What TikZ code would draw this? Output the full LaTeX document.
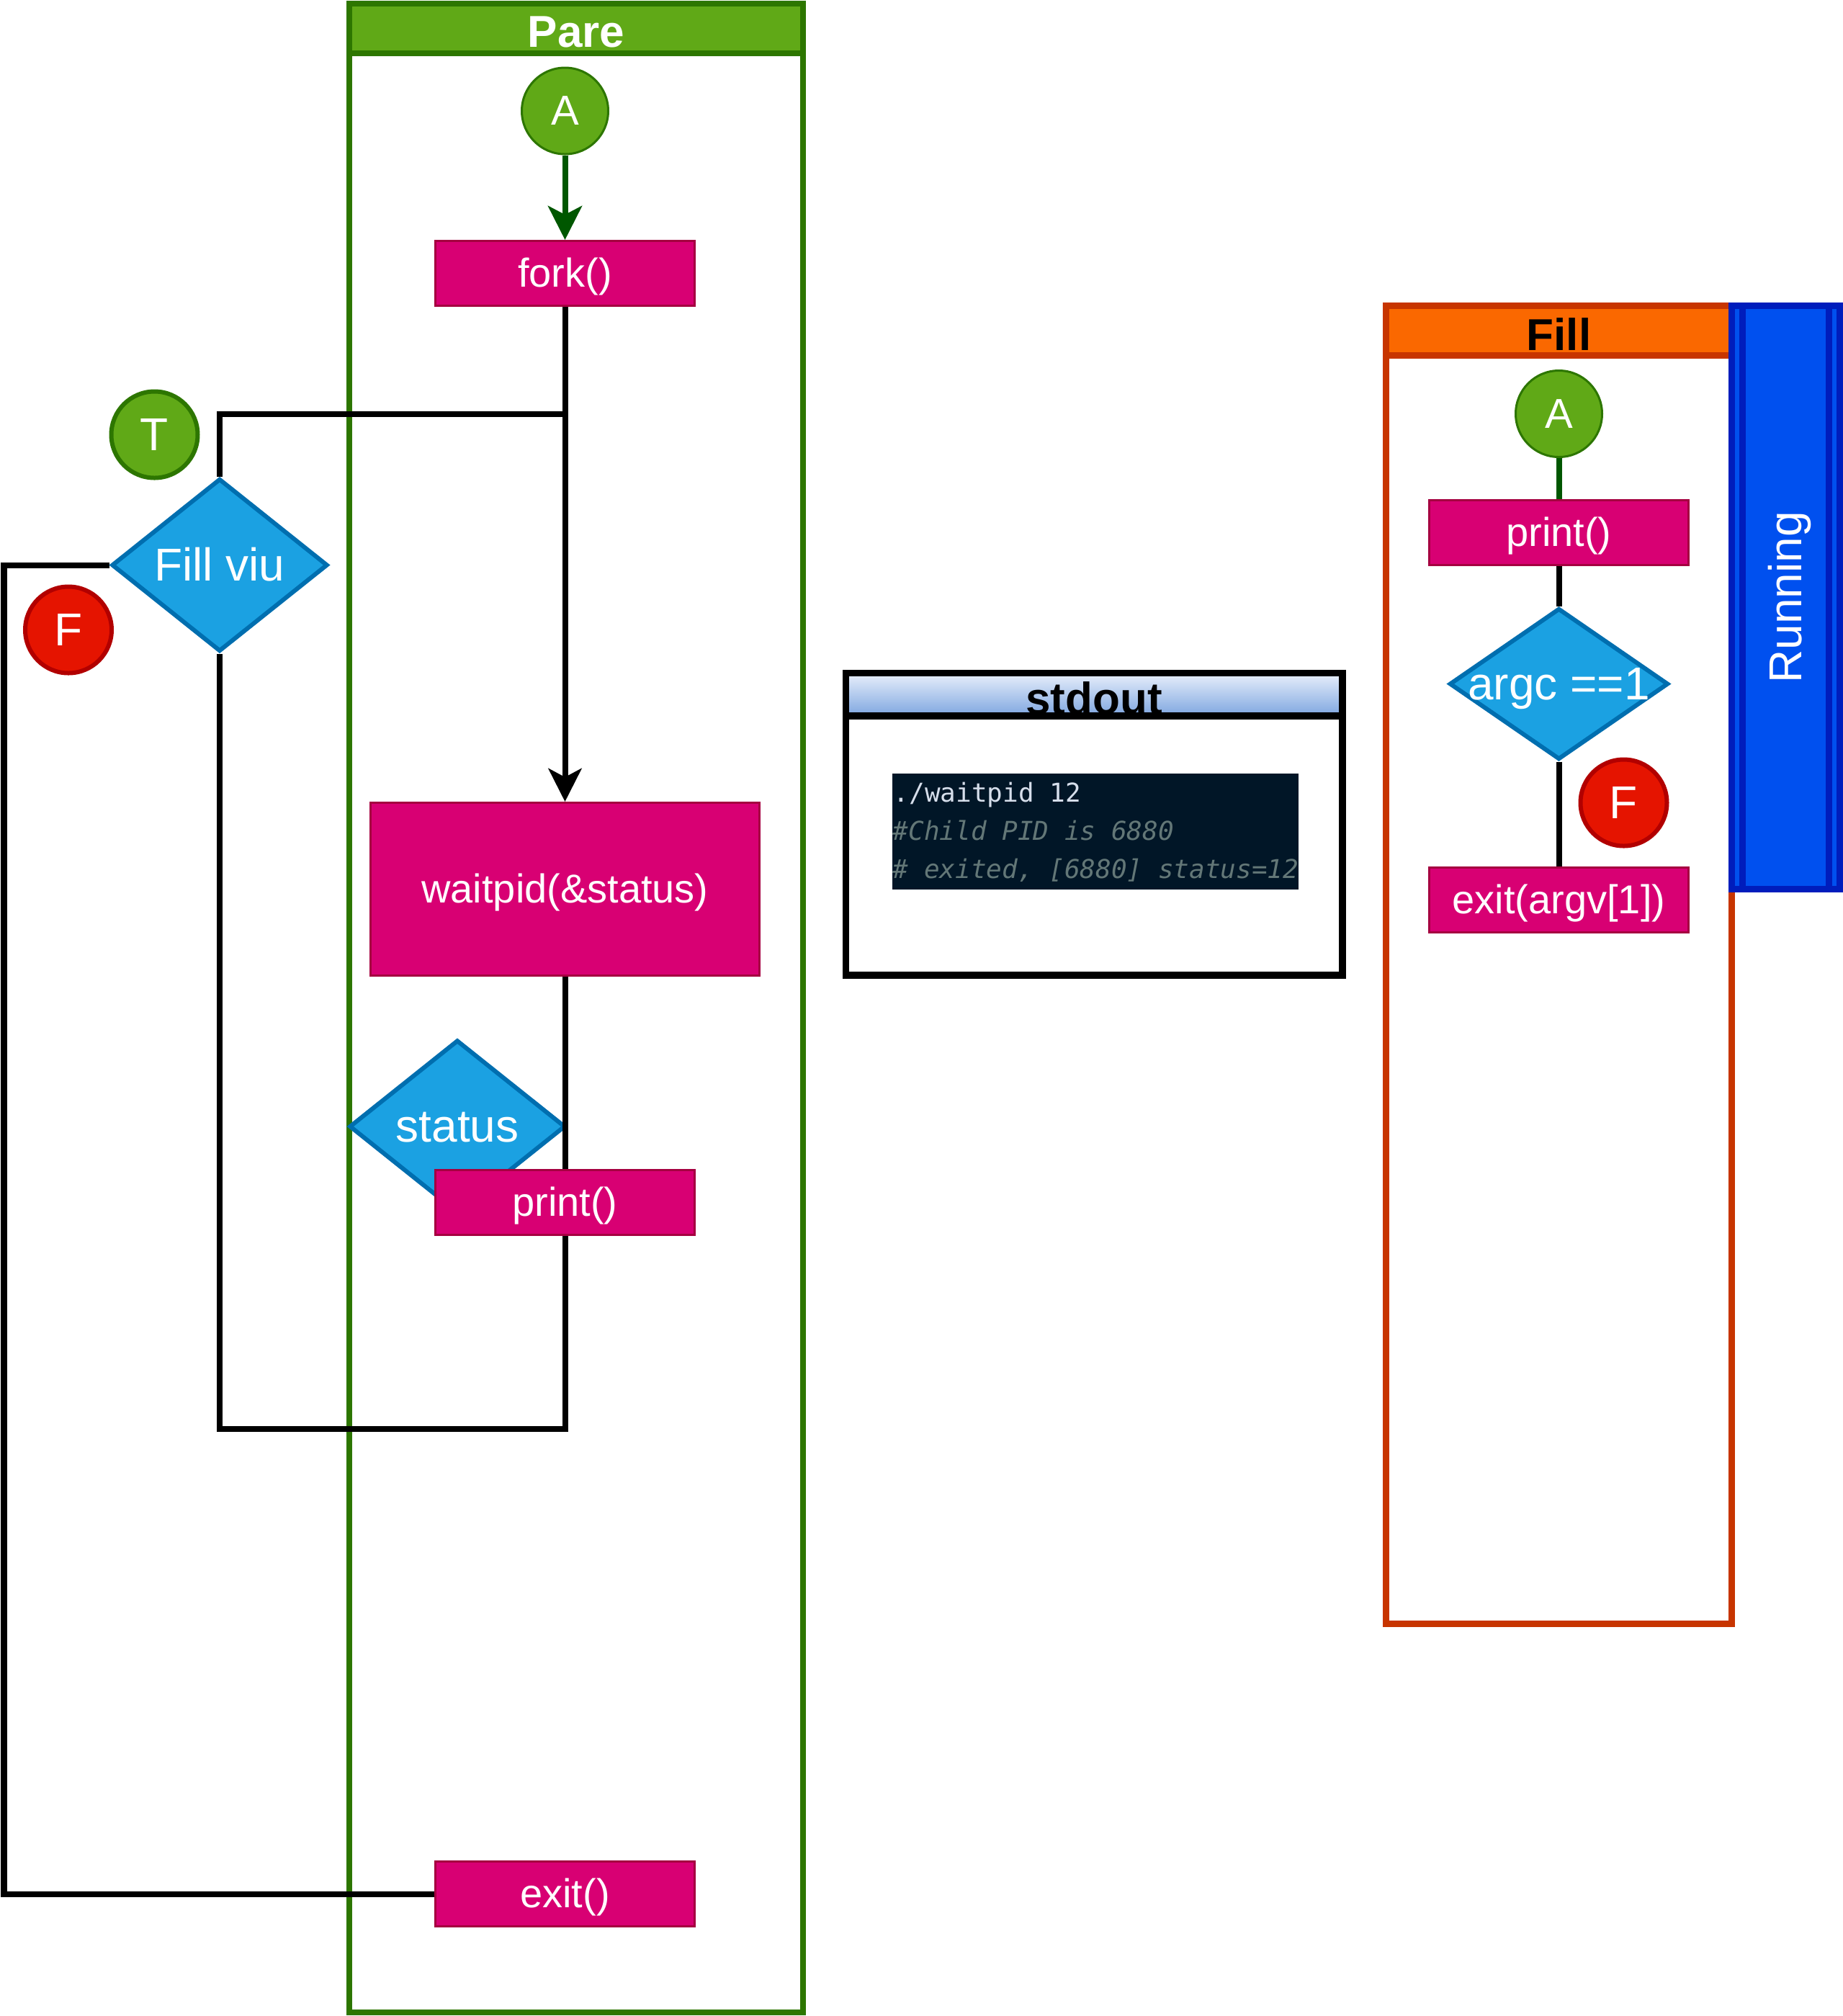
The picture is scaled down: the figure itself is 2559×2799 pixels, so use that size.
\documentclass[tikz,border=0pt]{standalone}
\usepackage{fontspec}
\setmainfont{Liberation Sans}
\newfontfamily\monofont{DejaVu Sans Mono}
\usetikzlibrary{shapes.geometric,arrows.meta}
\pgfdeclarelayer{lanes}
\pgfdeclarelayer{bg}
\pgfsetlayers{lanes,bg,main}
\definecolor{grfill}{HTML}{60A917}
\definecolor{grline}{HTML}{2D7600}
\definecolor{grarrow}{HTML}{005700}
\definecolor{pkfill}{HTML}{D80073}
\definecolor{pkline}{HTML}{A50040}
\definecolor{blfill}{HTML}{1BA1E2}
\definecolor{blline}{HTML}{006EAF}
\definecolor{rdfill}{HTML}{E51400}
\definecolor{rdline}{HTML}{B20000}
\definecolor{orfill}{HTML}{FA6800}
\definecolor{orline}{HTML}{C73500}
\definecolor{rnfill}{HTML}{0050EF}
\definecolor{rnline}{HTML}{001DBC}
\definecolor{hdtop}{HTML}{E8EFFB}
\definecolor{hdbot}{HTML}{7EA6E0}
\definecolor{termbg}{HTML}{011627}
\definecolor{termfg}{HTML}{D6DEEB}
\definecolor{termcm}{HTML}{637777}
\begin{document}
\begin{tikzpicture}[x=0.25pt,y=-0.25pt,
  f14/.style={font=\fontsize{14pt}{17pt}\selectfont,text height=12.6pt,text depth=3.1pt},
  f145/.style={font=\fontsize{14.5pt}{17pt}\selectfont,text height=13pt,text depth=3.2pt},
  f16/.style={font=\fontsize{16pt}{19pt}\selectfont,text height=14.4pt,text depth=3.5pt},
  hdr/.style={anchor=base,inner sep=0pt,font=\bfseries\fontsize{15.5pt}{18pt}\selectfont},
  proc/.style={rectangle,draw=pkline,fill=pkfill,line width=0.75pt,text=white,
    minimum width=90pt,minimum height=22.5pt,inner sep=0pt,f14},
  circ/.style={circle,minimum size=30pt,inner sep=0pt,text=white},
  gcirc/.style={circ,fill=grfill,draw=grline},
  rcirc/.style={circ,fill=rdfill,draw=rdline,line width=1.5pt,f16},
  dia/.style={diamond,draw=blline,fill=blfill,line width=1.5pt,inner sep=0pt,
    minimum width=75pt,minimum height=60pt},
  dlabel/.style={text=white,inner sep=0pt,f16},
  bline/.style={draw=black,line width=2pt},
  barrow/.style={bline,-{Stealth[length=11.5pt,width=11.5pt,inset=3pt]}},
  gline/.style={draw=grarrow,line width=2pt},
  garrow/.style={gline,-{Stealth[length=11.75pt,width=11.75pt,inset=3pt]}},
  mono/.style={anchor=base west,inner sep=0pt,font=\monofont\fontsize{9pt}{10pt}\selectfont},
  monoit/.style={anchor=base west,inner sep=0pt,font=\monofont\itshape\fontsize{9pt}{10pt}\selectfont}
]
\useasboundingbox (0,0) rectangle (2559,2799);

% lanes
\begin{pgfonlayer}{lanes}
\draw[draw=grline,fill=white,line width=2pt] (485,4.5) rectangle (1115,2794);
\draw[draw=grline,fill=grfill,line width=2pt] (485,4.5) rectangle (1115,74);
\draw[draw=orline,fill=white,line width=2.25pt] (1924.5,424.5) rectangle (2404.5,2254);
\draw[draw=orline,fill=orfill,line width=2.25pt] (1924.5,424.5) rectangle (2404.5,493.5);
\end{pgfonlayer}

% Pare
\node[hdr,text=white] (pareT) at (800,65.5) {Pare};
\node[gcirc,line width=0.75pt,f145] (pA) at (784.5,154) {A};
\node[proc] (fork) at (784.5,379.5) {fork()};
\node[proc,minimum width=135pt,minimum height=60pt] (waitpid) at (784.5,1234.5) {waitpid(\&status)};
\node[dia,label={[dlabel]center:status}] (status) at (635,1564) {};
\node[proc] (printp) at (784.5,1669.5) {print()};
\node[proc] (exitp) at (784.5,2629.5) {exit()};
\node[dia,label={[dlabel]center:Fill viu}] (fillviu) at (305,784.5) {};
\node[gcirc,line width=1.5pt,f16] (T) at (214.5,603.5) {T};
\node[rcirc] (F1) at (95,874.5) {F};

% Fill
\node[hdr,text=black] (fillT) at (2164.5,486) {Fill};
\node[gcirc,line width=0.75pt,f145] (fA) at (2164.5,574.5) {A};
\node[proc] (printf) at (2164.5,739.5) {print()};
\node[dia,minimum width=76pt,minimum height=52.5pt,label={[dlabel]center:argc ==1}] (argc) at (2164.5,949.5) {};
\node[rcirc] (F2) at (2254.5,1114.5) {F};
\node[proc] (exitf) at (2164.5,1249.5) {exit(argv[1])};

% Running
\node[draw=rnline,fill=rnfill,line width=2.25pt,outer sep=0pt,inner sep=0pt,
  minimum width=37.5pt,minimum height=202.5pt] (run) at (2479.5,829.5) {};
\draw[rnline,line width=2.25pt] ([xshift=3.75pt]run.north west) -- ([xshift=3.75pt]run.south west);
\draw[rnline,line width=2.25pt] ([xshift=-3.75pt]run.north east) -- ([xshift=-3.75pt]run.south east);
\node[rotate=90,text=white,inner sep=0pt,f16] (runT) at (run.center) {Running};

% stdout
\shade[top color=hdtop,bottom color=hdbot] (1174.6,934.7) rectangle (1864,994);
\node[hdr,text=black] (stdoutT) at (1519,991) {stdout};
\draw[line width=2.35pt] (1174.6,934.7) rectangle (1864,1354);
\draw[line width=2.35pt] (1174.6,994) -- (1864,994);
\node[fill=termbg,inner sep=0pt,minimum width=141pt,minimum height=40.25pt] (term) at (1521,1154.5) {};
\node[mono,text=termfg] (t1) at (1240,1113.5) {./waitpid 12};
\node[monoit,text=termcm] (t2) at (1239,1166.5) {\#Child PID is 6880};
\node[monoit,text=termcm] (t3) at (1239,1219.8) {\# exited, [6880] status=12};

% connectors
\draw[bline] (waitpid.south) -- (printp.north);
\begin{pgfonlayer}{bg}
\draw[garrow] (pA) -- (fork);
\draw[barrow] (fork.south) -- (waitpid.north);
\coordinate (j1) at (784.5,575);
\draw[bline] (fork.south) -- (j1) -| (fillviu.north);
\coordinate (c2) at (5.5,784.5);
\draw[bline] (fillviu.west) -- (c2) |- (exitp.west);
\coordinate (c3) at (784.5,1984);
\draw[bline] (printp.south) -- (c3) -| (fillviu.south);
\draw[gline] (fA) -- (printf);
\draw[bline] (printf) -- (argc);
\draw[bline] (argc) -- (exitf);
\end{pgfonlayer}
\end{tikzpicture}
\end{document}
